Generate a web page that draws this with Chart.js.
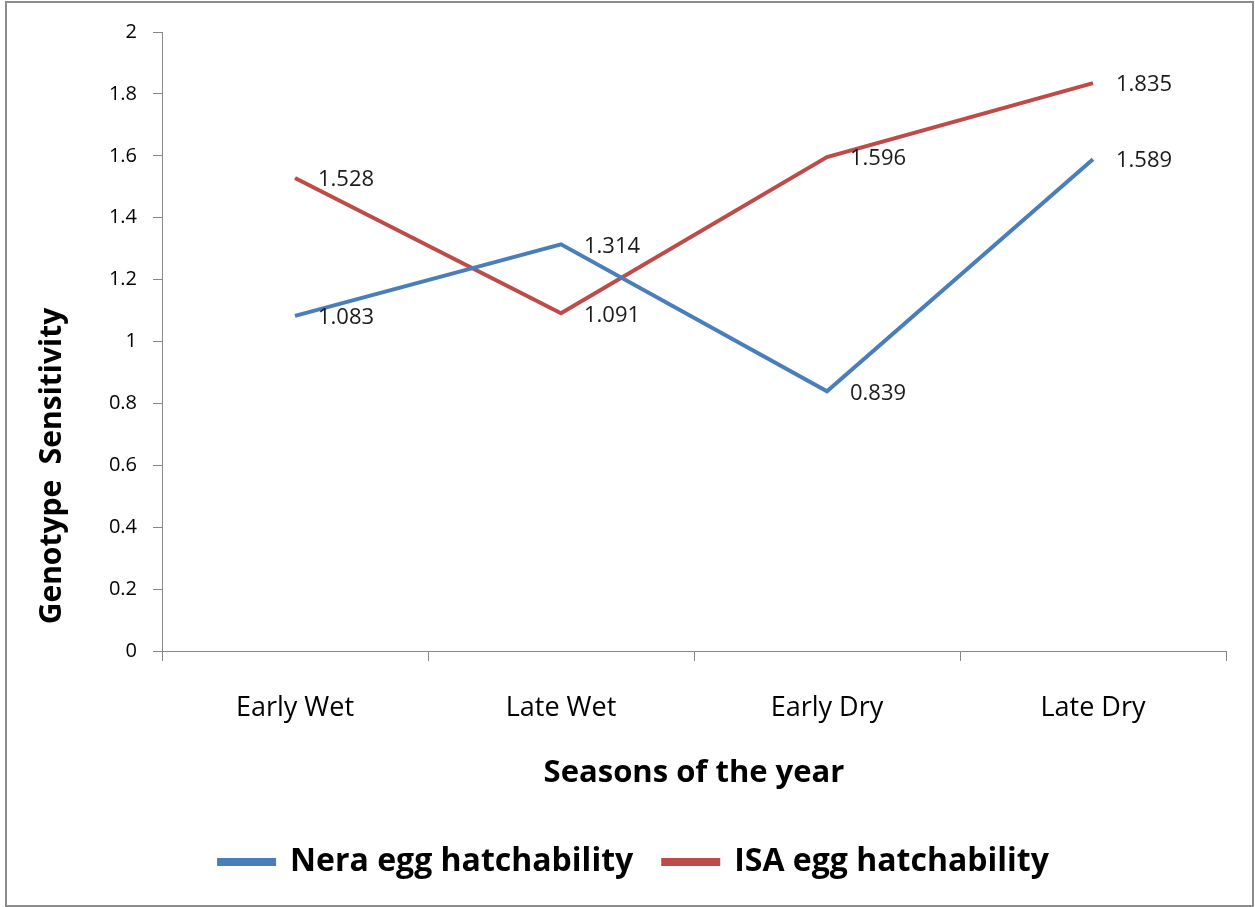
<!DOCTYPE html>
<html>
<head>
<meta charset="utf-8">
<script src="https://cdn.jsdelivr.net/npm/chart.js@4"></script>
<style>
  body { margin: 0; background: #fff; }
  #wrap { position: relative; width: 1255px; height: 907px; }
  #frame { position: absolute; left: 5px; top: 1px; width: 1245px; height: 902px; border: 2px solid #8c8c8c; pointer-events: none; }
  canvas { position: absolute; left: 0; top: 0; }
</style>
</head>
<body>
<div id="wrap">
  <canvas id="chart" width="1255" height="907"></canvas>
  <div id="frame"></div>
</div>
<script>
const seasons = ['Early Wet', 'Late Wet', 'Early Dry', 'Late Dry'];
const neraValues = [1.083, 1.314, 0.839, 1.589];
const isaValues = [1.528, 1.091, 1.596, 1.835];

const FONT = '"Open Sans", sans-serif';
const axisGray = '#868686';

// value labels to the right of each point
const pointLabels = {
    id: 'pointLabels',
    afterDatasetsDraw(chart) {
        const ctx = chart.ctx;
        ctx.save();
        ctx.font = '22px ' + FONT;
        ctx.fillStyle = '#1a1a1a';
        ctx.textAlign = 'left';
        ctx.textBaseline = 'middle';
        chart.data.datasets.forEach((ds, i) => {
            chart.getDatasetMeta(i).data.forEach((pt, j) => {
                ctx.fillText(ds.data[j].toFixed(3), pt.x + 23, pt.y + 2);
            });
        });
        ctx.restore();
    }
};

// y title sits lower than the plot middle in the original
const yTitle = {
    id: 'yTitle',
    afterDraw(chart) {
        const ctx = chart.ctx;
        ctx.save();
        ctx.translate(52, 466);
        ctx.rotate(-Math.PI / 2);
        ctx.font = 'bold 30px ' + FONT;
        ctx.fillStyle = '#000';
        ctx.textAlign = 'center';
        ctx.textBaseline = 'middle';
        ctx.fillText('Genotype  Sensitivity', 0, 0);
        ctx.restore();
    }
};

new Chart(document.getElementById('chart').getContext('2d'), {
    type: 'line',
    data: {
        labels: seasons,
        datasets: [{
            label: 'Nera egg hatchability',
            data: neraValues,
            borderColor: '#4A7EBB',
            backgroundColor: '#4A7EBB',
            borderWidth: 4,
            pointRadius: 0,
            tension: 0
        }, {
            label: 'ISA egg hatchability',
            data: isaValues,
            borderColor: '#BE4B48',
            backgroundColor: '#BE4B48',
            borderWidth: 4,
            pointRadius: 0,
            tension: 0
        }]
    },
    options: {
        responsive: false,
        animation: false,
        layout: { padding: { top: 32, right: 29, left: 42, bottom: 19 } },
        plugins: {
            legend: {
                position: 'bottom',
                labels: {
                    boxWidth: 55,
                    boxHeight: 4,
                    padding: 30,
                    color: '#000',
                    font: { family: FONT, size: 32, weight: 'bold' }
                }
            },
            tooltip: { enabled: false }
        },
        scales: {
            x: {
                offset: true,
                grid: { offset: true, drawOnChartArea: false, color: axisGray, tickLength: 10 },
                border: { color: axisGray, width: 1 },
                ticks: { color: '#000', padding: 31, font: { family: FONT, size: 27 } },
                title: {
                    display: true,
                    text: 'Seasons of the year',
                    color: '#000',
                    padding: { top: 0, bottom: 24 },
                    font: { family: FONT, size: 31, weight: 'bold' }
                },
                afterFit(scale) { scale.height = 165; }
            },
            y: {
                min: 0,
                max: 2,
                grid: { drawOnChartArea: false, color: axisGray, tickLength: 9 },
                border: { color: axisGray, width: 1 },
                ticks: {
                    stepSize: 0.2,
                    color: '#000',
                    padding: 16,
                    font: { family: FONT, size: 20 },
                    callback: v => String(+v.toFixed(1))
                },
                afterFit(scale) { scale.width = 120; }
            }
        }
    },
    plugins: [pointLabels, yTitle]
});
</script>
</body>
</html>
